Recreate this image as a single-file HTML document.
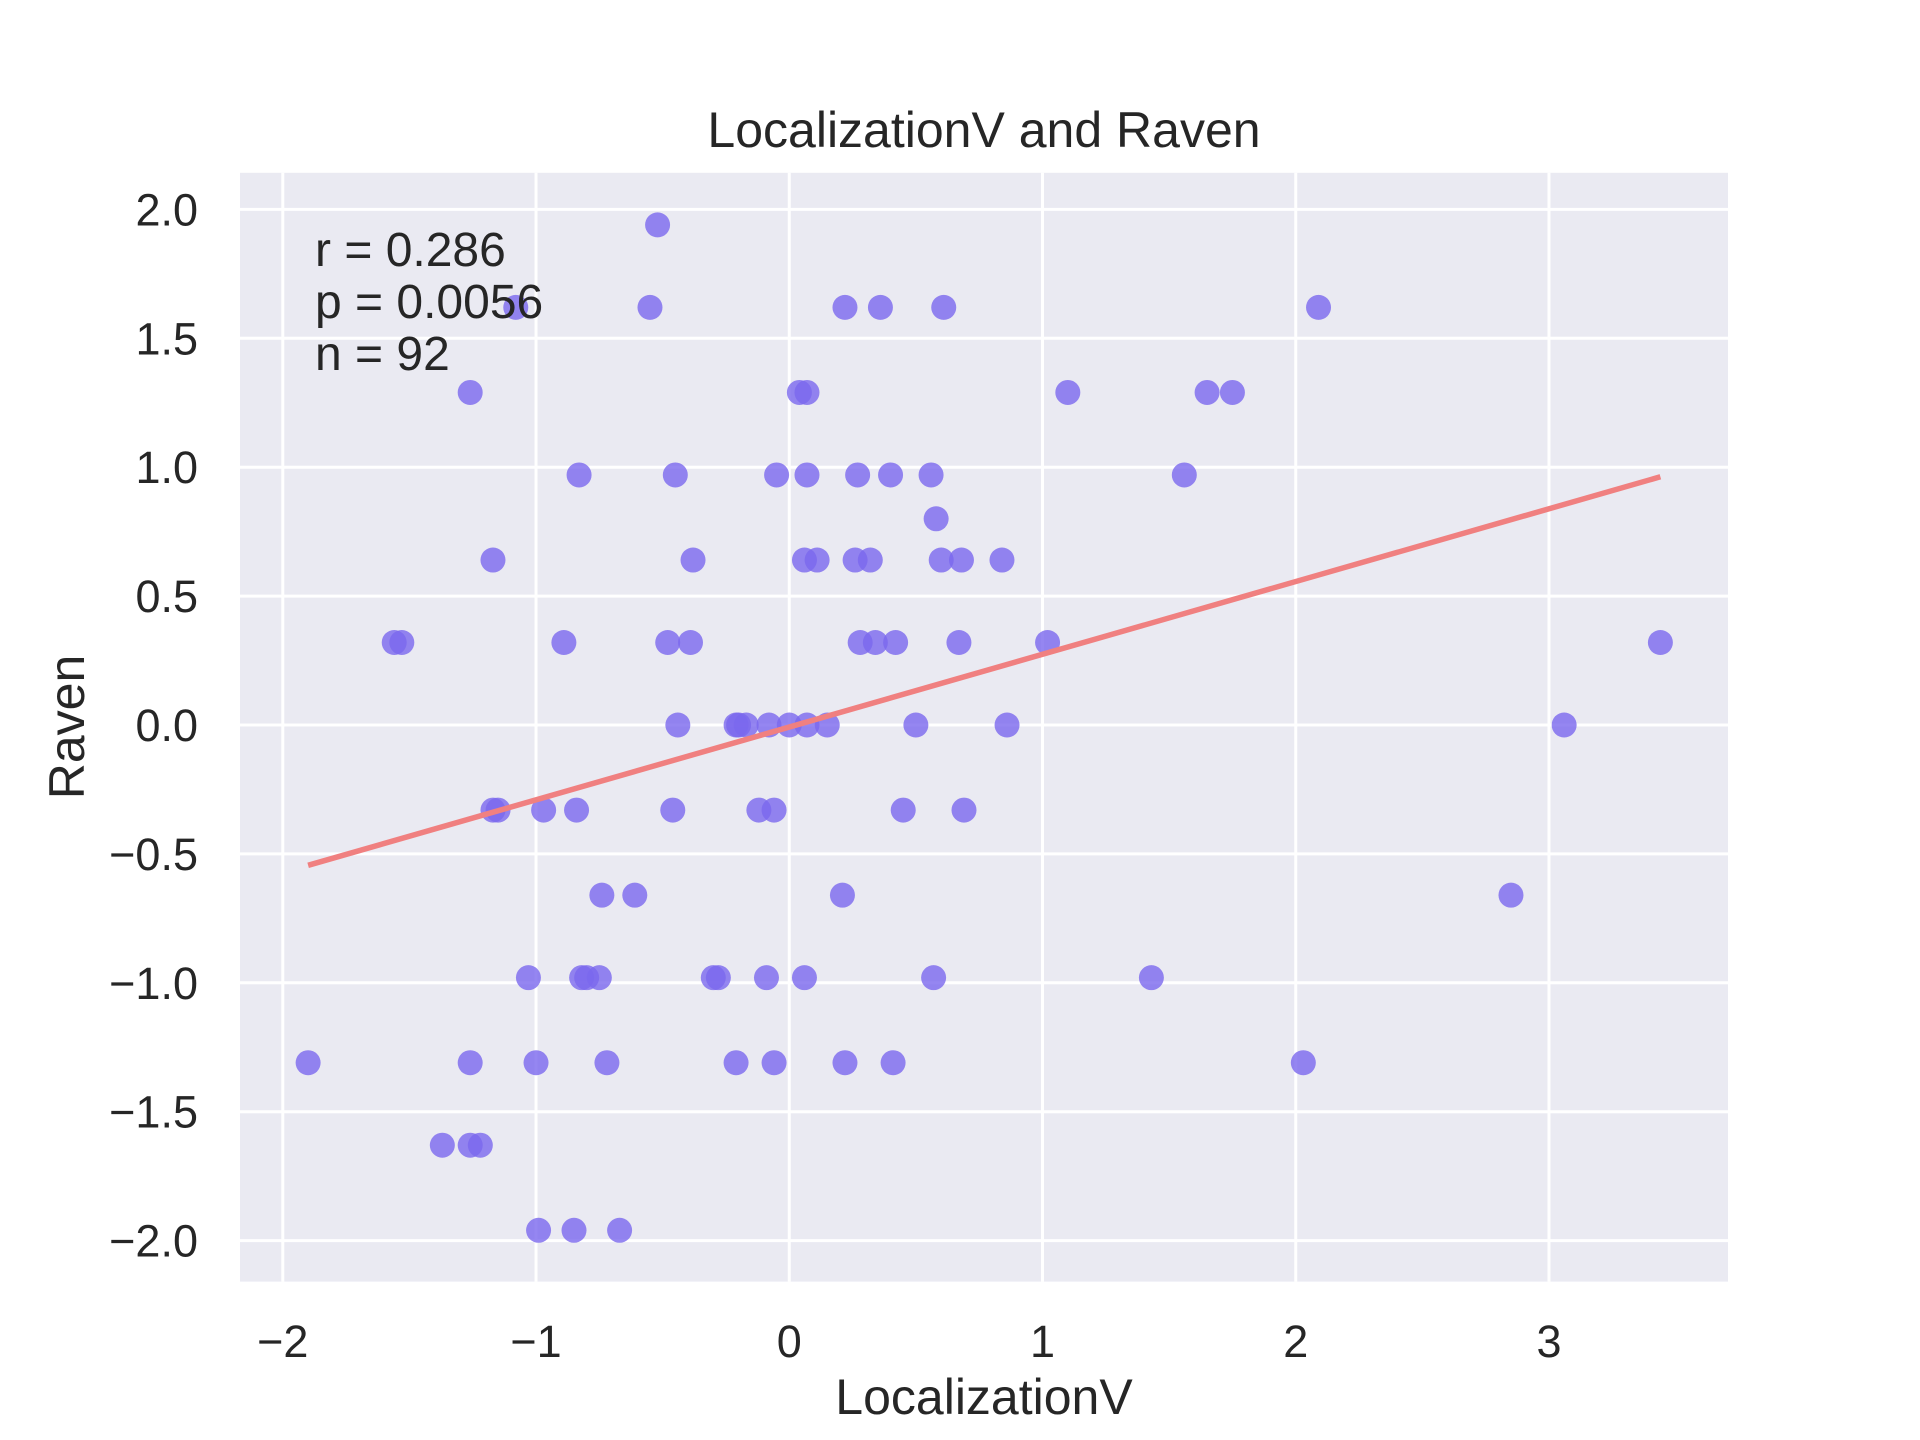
<!DOCTYPE html>
<html><head><meta charset="utf-8"><style>
html,body{margin:0;padding:0;background:#fff;}
svg{display:block;font-family:"Liberation Sans",Arial,sans-serif;}
</style></head><body>
<svg id="chart" width="1920" height="1440" viewBox="0 0 1920 1440" xmlns="http://www.w3.org/2000/svg">
<rect x="0" y="0" width="1920" height="1440" fill="#ffffff"/>
<rect x="240" y="172.8" width="1488" height="1108.8" fill="#EAEAF2"/>
<g id="grid"></g>
<g id="ticks"></g>
<g id="points"></g>
<g id="fit"></g>
<text x="984" y="147" font-size="50" text-anchor="middle" fill="#262626">LocalizationV and Raven</text>
<text x="984" y="1414" font-size="50" text-anchor="middle" fill="#262626">LocalizationV</text>
<text x="0" y="0" font-size="50" text-anchor="middle" fill="#262626" transform="translate(84,727) rotate(-90)">Raven</text>
<g font-size="48" fill="#262626">
<text x="315" y="266">r = 0.286</text>
<text x="315" y="318">p = 0.0056</text>
<text x="315" y="370">n = 92</text>
</g>
</svg>
<script>
const xVals = [-0.52,
 -1.08,-0.55,0.22,0.36,0.61,2.09,
 -1.26,0.04,0.07,1.10,1.65,1.75,
 -0.83,-0.45,-0.05,0.07,0.27,0.40,0.56,1.56,
 0.58,
 -1.17,-0.38,0.06,0.11,0.26,0.32,0.60,0.68,0.84,
 -1.56,-1.53,-0.89,-0.48,-0.39,0.28,0.34,0.42,0.67,1.02,3.44,
 -0.44,-0.21,-0.20,-0.17,-0.08,0.00,0.07,0.15,0.50,0.86,3.06,
 -1.17,-1.15,-0.97,-0.84,-0.46,-0.12,-0.06,0.45,0.69,
 -0.74,-0.61,0.21,2.85,
 -1.03,-0.82,-0.80,-0.75,-0.30,-0.28,-0.09,0.06,0.57,1.43,
 -1.90,-1.26,-1.00,-0.72,-0.21,-0.06,0.22,0.41,2.03,
 -1.37,-1.26,-1.22,
 -0.99,-0.85,-0.67];
const yVals = [1.94,
 1.62,1.62,1.62,1.62,1.62,1.62,
 1.29,1.29,1.29,1.29,1.29,1.29,
 0.97,0.97,0.97,0.97,0.97,0.97,0.97,0.97,
 0.80,
 0.64,0.64,0.64,0.64,0.64,0.64,0.64,0.64,0.64,
 0.32,0.32,0.32,0.32,0.32,0.32,0.32,0.32,0.32,0.32,0.32,
 0,0,0,0,0,0,0,0,0,0,0,
 -0.33,-0.33,-0.33,-0.33,-0.33,-0.33,-0.33,-0.33,-0.33,
 -0.66,-0.66,-0.66,-0.66,
 -0.98,-0.98,-0.98,-0.98,-0.98,-0.98,-0.98,-0.98,-0.98,-0.98,
 -1.31,-1.31,-1.31,-1.31,-1.31,-1.31,-1.31,-1.31,-1.31,
 -1.63,-1.63,-1.63,
 -1.96,-1.96,-1.96];
const xTicks = [-2,-1,0,1,2,3];
const yTicks = [2.0,1.5,1.0,0.5,0.0,-0.5,-1.0,-1.5,-2.0];
const xTickLabels = ["\u22122","\u22121","0","1","2","3"];
const yTickLabels = ["2.0","1.5","1.0","0.5","0.0","\u22120.5","\u22121.0","\u22121.5","\u22122.0"];

const NS = "http://www.w3.org/2000/svg";
const L=240,R=1728,T=172.8,B=1281.6;
const xMin=-2.169,xMax=3.707,yMin=-2.159,yMax=2.142;
function sx(v){return L+(v-xMin)/(xMax-xMin)*(R-L);}
function sy(v){return B-(v-yMin)/(yMax-yMin)*(B-T);}
function mk(tag,attrs){const e=document.createElementNS(NS,tag);for(const k in attrs)e.setAttribute(k,attrs[k]);return e;}

const grid=document.getElementById('grid'), ticks=document.getElementById('ticks');
xTicks.forEach((t,i)=>{
  const ln=mk('line',{x1:sx(t),x2:sx(t),y1:T,y2:B,stroke:'#fff','stroke-width':3});
  
  
  grid.appendChild(ln);
  const tx=mk('text',{x:sx(t),y:1357,'font-size':45,'text-anchor':'middle',fill:'#262626'});
  tx.textContent=xTickLabels[i];
  
  
  ticks.appendChild(tx);
});
yTicks.forEach((t,i)=>{
  const ln=mk('line',{x1:L,x2:R,y1:sy(t),y2:sy(t),stroke:'#fff','stroke-width':3});
  
  
  grid.appendChild(ln);
  const tx=mk('text',{x:198,y:sy(t)+16,'font-size':45,'text-anchor':'end',fill:'#262626'});
  tx.textContent=yTickLabels[i];
  
  
  ticks.appendChild(tx);
});
const pts=document.getElementById('points');
xVals.forEach((x,i)=>{
  const c=mk('circle',{cx:sx(x),cy:sy(yVals[i]),r:12.5,fill:'#7B68EE','fill-opacity':0.8});
  
  
  pts.appendChild(c);
});
const n=xVals.length;
const mx=xVals.reduce((a,b)=>a+b,0)/n, my=yVals.reduce((a,b)=>a+b,0)/n;
let sxy=0,sxx=0;
for(let i=0;i<n;i++){sxy+=(xVals[i]-mx)*(yVals[i]-my);sxx+=(xVals[i]-mx)**2;}
const slope=sxy/sxx, icpt=my-slope*mx;
const x0=Math.min(...xVals), x1=Math.max(...xVals);
const fl=mk('line',{x1:sx(x0),y1:sy(icpt+slope*x0),x2:sx(x1),y2:sy(icpt+slope*x1),stroke:'#F08080','stroke-width':5.5});


document.getElementById('fit').appendChild(fl);
</script>
</body></html>
